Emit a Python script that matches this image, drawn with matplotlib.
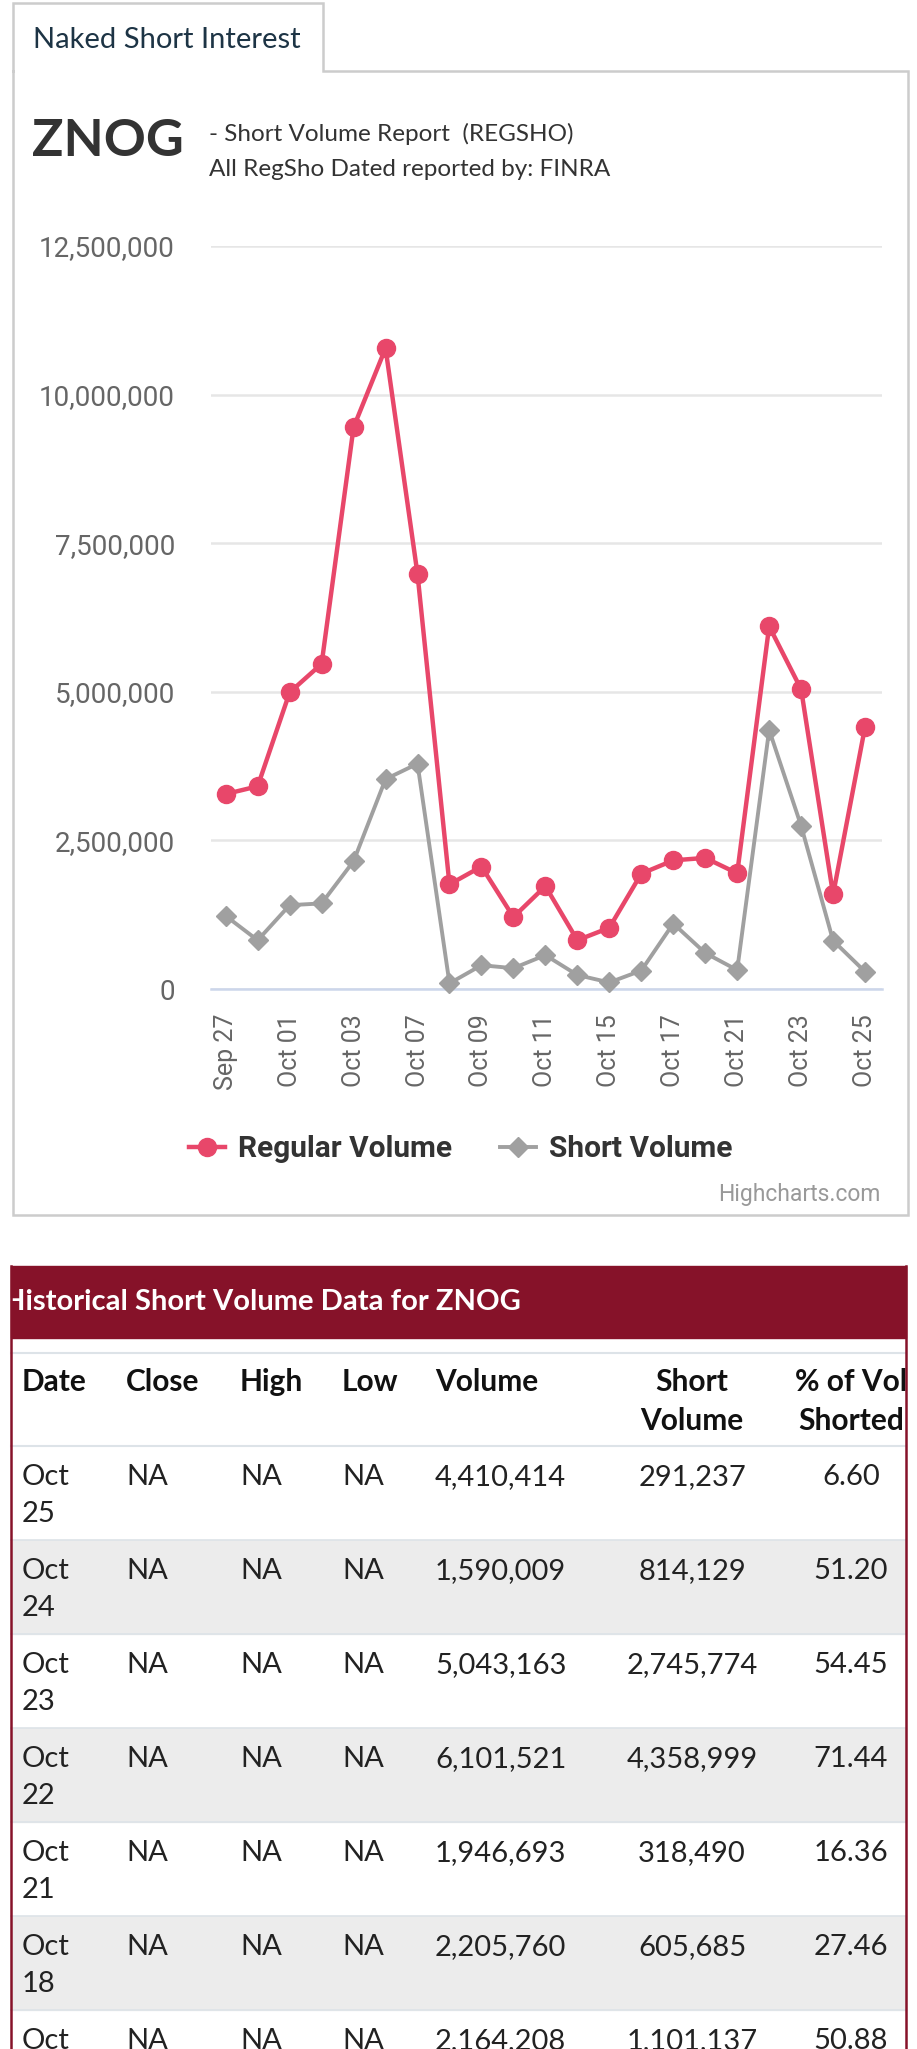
import matplotlib
matplotlib.use("Agg")
import matplotlib.pyplot as plt
from matplotlib.patches import Rectangle
from matplotlib.ticker import FuncFormatter

# chart data
dates = ["Sep 27", "Sep 30", "Oct 01", "Oct 02", "Oct 03", "Oct 04", "Oct 07",
         "Oct 08", "Oct 09", "Oct 10", "Oct 11", "Oct 14", "Oct 15", "Oct 16",
         "Oct 17", "Oct 18", "Oct 21", "Oct 22", "Oct 23", "Oct 24", "Oct 25"]
regular_volume = [3280000, 3410000, 4990000, 5470000, 9450000, 10780000, 6980000,
                  1760000, 2060000, 1210000, 1730000, 820000, 1030000, 1940000,
                  2164208, 2205760, 1946693, 6101521, 5043163, 1590009, 4410414]
short_volume = [1230000, 820000, 1410000, 1440000, 2150000, 3530000, 3790000,
                95000, 400000, 350000, 570000, 235000, 110000, 310000,
                1101137, 605685, 318490, 4358999, 2745774, 814129, 291237]
y_ticks = [0, 2500000, 5000000, 7500000, 10000000, 12500000]

# table data
table_columns = ["Date", "Close", "High", "Low", "Volume", "Short\nVolume", "% of Vol\nShorted"]
table_dates = ["Oct\n25", "Oct\n24", "Oct\n23", "Oct\n22", "Oct\n21", "Oct\n18", "Oct\n17"]
table_close = ["NA"] * 7
table_high = ["NA"] * 7
table_low = ["NA"] * 7
table_volume = ["4,410,414", "1,590,009", "5,043,163", "6,101,521", "1,946,693", "2,205,760", "2,164,208"]
table_short = ["291,237", "814,129", "2,745,774", "4,358,999", "318,490", "605,685", "1,101,137"]
table_pct = ["6.60", "51.20", "54.45", "71.44", "16.36", "27.46", "50.88"]

W, H = 917, 2049
fig = plt.figure(figsize=(W / 100, H / 100), dpi=100)

# background axes in pixel coordinates
bg = fig.add_axes([0, 0, 1, 1])
bg.set_xlim(0, W)
bg.set_ylim(H, 0)
bg.axis("off")

box_col = "#cccccc"
# tab + chart box outline
bg.plot([13, 13, 323, 323, 908, 908, 13, 13], [71, 3, 3, 71, 71, 1215, 1215, 71],
        color=box_col, lw=1.8, solid_joinstyle="miter")
bg.text(33, 40, "Naked Short Interest", fontsize=21, family="Lato", color="#1d3445",
        va="center", ha="left")
bg.text(32, 141, "ZNOG", fontsize=37.5, family="Lato", weight="bold", color="#333333",
        va="center", ha="left")
bg.text(209, 134, "- Short Volume Report  (REGSHO)", fontsize=17.5, family="Lato",
        color="#333333", va="center", ha="left")
bg.text(209, 169, "All RegSho Dated reported by: FINRA", fontsize=17.5, family="Lato",
        color="#333333", va="center", ha="left")
bg.text(881, 1194, "Highcharts.com", fontsize=16.5, family="Roboto", color="#999999",
        va="center", ha="right")

# line chart
ax = fig.add_axes([211 / W, 1 - 989 / H, 671 / W, (989 - 246) / H])
ax.set_facecolor("none")
x = list(range(len(dates)))
ax.plot(x, regular_volume, color="#e8476a", lw=3.2, marker="o", markersize=13,
        label="Regular Volume", clip_on=False, zorder=4)
ax.plot(x, short_volume, color="#a0a0a0", lw=2.8, marker="D", markersize=10,
        label="Short Volume", clip_on=False, zorder=3)
ax.set_xlim(-0.46, 20.53)
ax.set_ylim(0, 12500000)
ax.set_yticks(y_ticks)
ax.yaxis.set_major_formatter(FuncFormatter(lambda v, p: f"{int(v):,}"))
ax.set_xticks(x[::2])
ax.set_xticklabels(dates[::2], rotation=90, ha="center", va="top")
ax.grid(axis="y", color="#e6e6e6", lw=1.8)
ax.set_axisbelow(True)
for s in ["top", "right", "left"]:
    ax.spines[s].set_visible(False)
ax.spines["bottom"].set_color("#ccd6eb")
ax.spines["bottom"].set_linewidth(1.8)
ax.tick_params(axis="y", length=0, pad=26, labelsize=20, labelcolor="#666666")
ax.tick_params(axis="x", length=0, pad=18, labelsize=18, labelcolor="#666666")
for lab in ax.get_xticklabels() + ax.get_yticklabels():
    lab.set_family("Roboto")

leg = fig.legend(loc="center", bbox_to_anchor=(461 / W, 1 - 1149 / H), ncol=2,
                 frameon=False, handlelength=1.2, handletextpad=0.45, columnspacing=1.6,
                 prop={"family": "Roboto", "weight": "bold", "size": 21.5})
for t in leg.get_texts():
    t.set_color("#333333")

# table
red = "#861229"
tb_left, tb_right = 11, 906
bg.add_patch(Rectangle((tb_left, 1266), tb_right - tb_left, 1338 - 1266, color=red, zorder=2))
title = bg.text(3, 1302, "Historical Short Volume Data for ZNOG", fontsize=21, family="Lato",
                weight="bold", color="white", va="center", ha="left", zorder=3)
title.set_clip_path(Rectangle((tb_left, 1266), tb_right - tb_left, 72, transform=bg.transData))
bg.plot([tb_left, tb_right], [1353, 1353], color="#dde3e8", lw=1.5, zorder=3)
bg.plot([tb_left, tb_right], [1446, 1446], color="#dde3e8", lw=1.5, zorder=3)

col_x = [22, 126, 240, 342, 435, 692, 851]
col_ha = ["left", "left", "left", "left", "left", "center", "center"]
clip_box = Rectangle((tb_left, 1339), tb_right - tb_left, H - 1339, transform=bg.transData)
for cx, ha, name in zip(col_x, col_ha, table_columns):
    t = bg.text(cx, 1368, name, fontsize=21.5, family="Lato", weight="bold", color="#111111",
                va="top", ha=ha, linespacing=1.5, zorder=4)
    t.set_clip_path(clip_box)

row_top = 1446
row_h = 94
for i in range(len(table_dates)):
    top = row_top + i * row_h
    if i % 2 == 1:
        bg.add_patch(Rectangle((tb_left, top), tb_right - tb_left, row_h, color="#ececec", zorder=1))
    bg.plot([tb_left, tb_right], [top, top], color="#dde3e8", lw=1.2, zorder=2)
    cells = [table_dates[i], table_close[i], table_high[i], table_low[i],
             table_volume[i], table_short[i], table_pct[i]]
    for cx, ha, val in zip(col_x, col_ha, cells):
        bg.text(cx, top + 18, val, fontsize=21, family="Lato", color="#222222",
                va="top", ha=ha, linespacing=1.5, zorder=4)

# table side borders
bg.plot([tb_left, tb_left], [1266, H], color=red, lw=1.8, zorder=5)
bg.plot([tb_right, tb_right], [1266, H], color=red, lw=1.8, zorder=5)

fig.savefig("out.png", dpi=100)
